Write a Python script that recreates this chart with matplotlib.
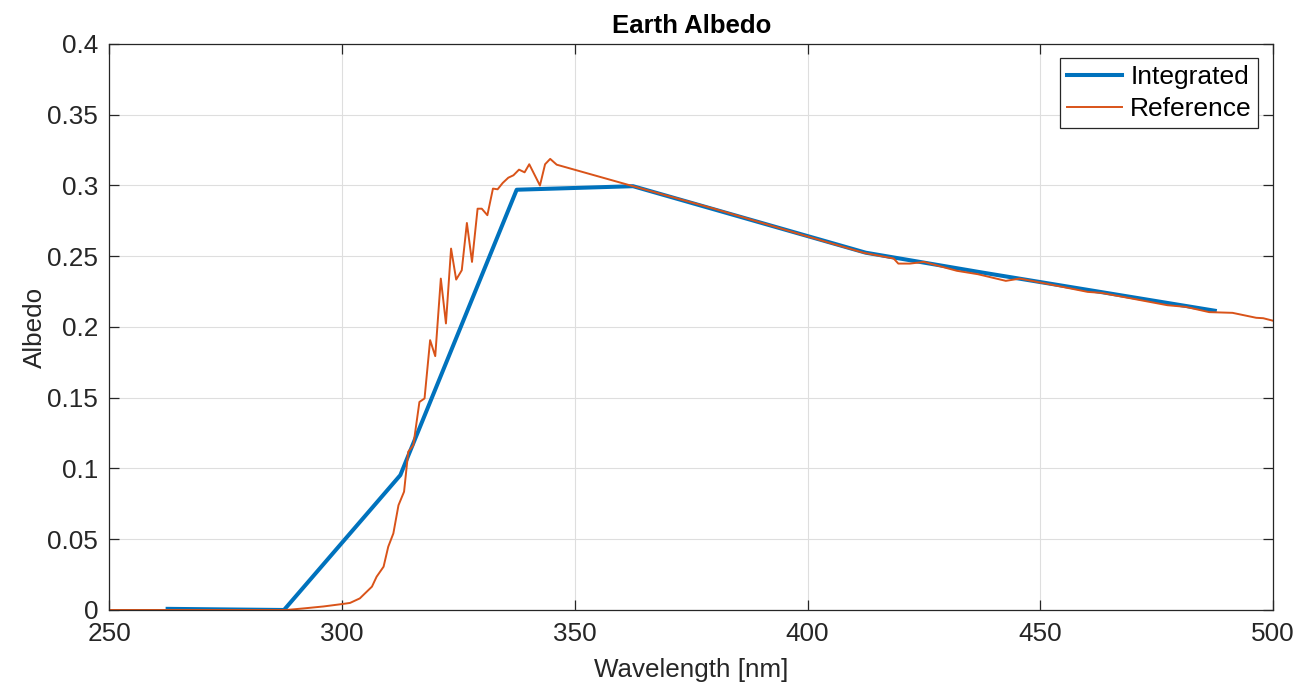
import matplotlib
matplotlib.use("Agg")

import matplotlib.pyplot as plt

BLUE = "#0072BD"
ORANGE = "#D95319"
AX_COLOR = "#262626"

# Integrated albedo, 25 nm bin centres
integrated_nm = [262.5, 287.5, 312.5, 337.5, 362.5, 387.5, 412.5, 437.5, 462.5, 487.5]
integrated_albedo = [0.0008, 0.0, 0.0953, 0.297, 0.2995, 0.276, 0.2525, 0.2385, 0.2250, 0.2115]

# Reference spectrum
reference_nm = [
    250, 260, 270, 280, 288, 292, 296, 300, 301.7, 303.8, 306.4, 307.4, 308.9,
    309.9, 311.0, 312.1, 313.3, 314.2, 315.3, 316.6, 317.7, 318.9, 320.0,
    321.2, 322.3, 323.4, 324.5, 325.7, 326.8, 327.9, 329.1, 330.0, 331.2,
    332.4, 333.4, 334.5, 335.7, 336.8, 338.0, 339.2, 340.2, 342.5, 343.6,
    344.7, 346.1, 362.5, 380.0, 400.0, 412.0, 418.5, 419.5, 422.0, 425.0,
    432.1, 436.6, 442.6, 445.6, 451.2, 460.2, 463.2, 477.3, 481.3, 486.3,
    491.3, 496.4, 497.9, 501.0,
]
reference_albedo = [
    0.0, 0.0, 0.0, 0.0, 0.0, 0.0012, 0.0025, 0.0042, 0.005, 0.0082, 0.0165,
    0.0235, 0.0306, 0.0447, 0.0541, 0.074, 0.0836, 0.1118, 0.1165, 0.147,
    0.1495, 0.1907, 0.1794, 0.2342, 0.2025, 0.2554, 0.2335, 0.2401, 0.2735,
    0.246, 0.2836, 0.2836, 0.279, 0.2978, 0.2973, 0.3018, 0.3055, 0.3072,
    0.3112, 0.3093, 0.315, 0.300, 0.315, 0.3188, 0.3147, 0.2995, 0.2835,
    0.264, 0.2525, 0.2484, 0.2448, 0.2448, 0.246, 0.2397, 0.2373, 0.2326,
    0.2342, 0.2307, 0.2248, 0.2241, 0.2154, 0.2142, 0.2105, 0.2100, 0.2065,
    0.2062, 0.2036,
]

plt.rcParams["font.family"] = ["Liberation Sans", "DejaVu Sans"]

fig = plt.figure(figsize=(13, 6.83), dpi=100)
ax = fig.add_axes([0.0842, 0.1069, 0.8950, 0.8287])

ax.plot(integrated_nm, integrated_albedo, color=BLUE, lw=2.9, label="Integrated")
ax.plot(reference_nm, reference_albedo, color=ORANGE, lw=1.4, label="Reference")

ax.set_xlim(250, 500)
ax.set_ylim(0, 0.4)
ax.set_xticks([250, 300, 350, 400, 450, 500])
ax.set_yticks([0, 0.05, 0.1, 0.15, 0.2, 0.25, 0.3, 0.35, 0.4])
ax.set_yticklabels(["0", "0.05", "0.1", "0.15", "0.2", "0.25", "0.3", "0.35", "0.4"])
ax.grid(True, color="#dedede", lw=0.8)
ax.set_axisbelow(True)

for s in ax.spines.values():
    s.set_color(AX_COLOR)
    s.set_linewidth(0.9)
ax.tick_params(direction="in", length=7, width=0.9, top=True, right=True,
               colors=AX_COLOR, labelsize=18.8)
ax.tick_params(axis="x", pad=9)
ax.tick_params(axis="y", pad=8)

ax.set_xlabel("Wavelength [nm]", fontsize=18.7, color=AX_COLOR, labelpad=8)
ax.set_ylabel("Albedo", fontsize=18.7, color=AX_COLOR, labelpad=0.5)
ax.set_title("Earth Albedo", fontsize=18.5, fontweight="bold", pad=8)

leg = ax.legend(loc="upper right", fontsize=19, handlelength=2.1,
                fancybox=False, framealpha=1, edgecolor=AX_COLOR,
                borderpad=0.25, labelspacing=0.3, handletextpad=0.3,
                borderaxespad=0.55)
leg.get_frame().set_linewidth(0.9)

fig.savefig("out.png", dpi=100)
